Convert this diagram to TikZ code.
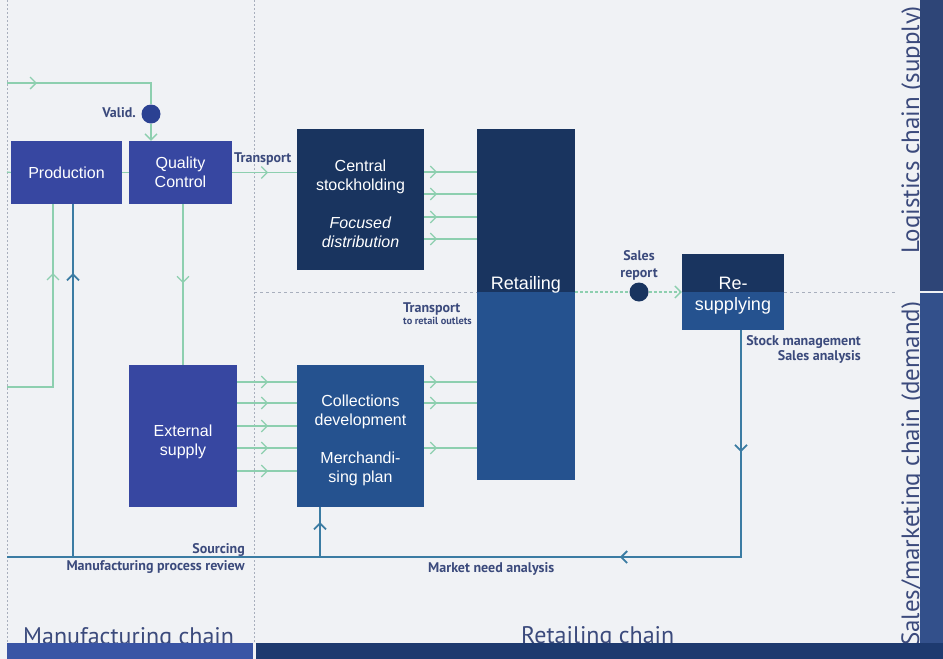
\documentclass[tikz,border=0pt]{standalone}
\usepackage{fontspec}
\setmainfont{Liberation Sans}
\newfontfamily\chainfont{PT Sans}
\usetikzlibrary{arrows.meta,decorations.markings}

\definecolor{bgcol}{HTML}{F0F2F5}
\definecolor{indigo}{HTML}{3747A1}
\definecolor{navy}{HTML}{19345F}
\definecolor{midblue}{HTML}{25528F}
\definecolor{flowgreen}{HTML}{8DCFAF}
\definecolor{loopblue}{HTML}{3B7CA3}
\definecolor{labelblue}{HTML}{3B4A7C}
\definecolor{gridgray}{HTML}{A8AFBD}
\definecolor{barleft}{HTML}{3A55A5}
\definecolor{barright}{HTML}{1E3A6F}
\definecolor{sidetop}{HTML}{2E4577}
\definecolor{sidebot}{HTML}{33508B}
\definecolor{validcol}{HTML}{2B4192}

\tikzset{
  box/.style={rectangle, inner sep=0pt, text=white, align=center,
    font=\fontsize{16}{19}\selectfont},
  flow/.style={draw=flowgreen, line width=1.3pt},
  backflow/.style={draw=loopblue, line width=1.9pt},
  chevron/.tip={Straight Barb[length=6pt,width=12pt]},
  barb/.style={postaction={decorate}, decoration={markings,
    mark=at position #1 with {\arrow{chevron}}}},
  lbl/.style={text=labelblue, inner sep=0pt,
    font=\chainfont\bfseries\fontsize{14}{16}\selectfont},
  chainlbl/.style={text=labelblue, inner sep=0pt,
    font=\chainfont\fontsize{24}{29}\selectfont},
  knob/.style={circle, inner sep=0pt, minimum size=19pt},
}

\begin{document}
\begin{tikzpicture}[x=1pt, y=-1pt]

%% background
\useasboundingbox (0,0) rectangle (943,659);
\fill[bgcol] (0,0) rectangle (943,659);

%% section dividers
\draw[gridgray, line width=1pt, dash pattern=on 2pt off 2pt] (7,0) -- (7,643);
\draw[gridgray, line width=1pt, dash pattern=on 2pt off 2pt] (254,0) -- (254,643);

%% chain titles (under the bars)
\node[chainlbl, anchor=base west] (manu) at (23,644) {Manufacturing chain};
\node[chainlbl, anchor=base west] (retch) at (521,643) {Retailing chain};
\node[chainlbl, anchor=base west, rotate=90, font=\chainfont\fontsize{25}{30}\selectfont] (logi) at (919,254) {Logistics chain (supply)};
\node[chainlbl, anchor=base west, rotate=90, font=\chainfont\fontsize{25}{30}\selectfont] (salesch) at (919,646) {Sales/marketing chain (demand)};

%% bars
\fill[barleft] (7,643) rectangle (253,659);
\fill[barright] (256,643) rectangle (943,659);
\fill[sidetop] (920,0) rectangle (943,291);
\fill[sidebot] (920,293) rectangle (943,643);

%% boxes
\node[box, fill=indigo, minimum width=111pt, minimum height=63pt] (prod) at (66.5,172.5) {Production};
\node[box, fill=indigo, minimum width=103pt, minimum height=63pt] (qc) at (180.5,172.5) {Quality\\Control};
\node[box, fill=navy, minimum width=127pt, minimum height=141pt] (central) at (360.5,199.5) {};
\node[box, fill=indigo, minimum width=108pt, minimum height=142pt] (ext) at (183,436) {};
\node[box, fill=midblue, minimum width=127pt, minimum height=142pt] (coll) at (360.5,436) {};
\node[box, fill=midblue, minimum width=98pt, minimum height=351pt] (retail) at (526,304.5) {};
\node[box, fill=midblue, minimum width=102pt, minimum height=76pt] (resup) at (733,292) {};

%% upper halves
\coordinate (split) at (0,292);
\fill[navy] (retail.north west) rectangle (retail.east |- split);
\fill[navy] (resup.north west) rectangle (resup.east |- split);

%% box texts
\node[box] (centraltxt) at (360.5,203.5) {Central\\stockholding\\[19pt]\textit{Focused}\\\textit{distribution}};
\node[box] (exttxt) at (183,441.5) {External\\supply};
\node[box] (colltxt) at (360.5,440) {Collections\\development\\[19pt]Merchandi-\\sing plan};
\node[box, font=\fontsize{18}{21}\selectfont] (retailtxt) at (526,285) {Retailing};
\node[box, font=\fontsize{18}{21}\selectfont] (resuptxt) at (733,296) {Re-\\supplying};

%% split line
\draw[gridgray, line width=0.8pt, dash pattern=on 3pt off 3pt] (254,292) -- (retail.west |- split);
\draw[gridgray, line width=0.8pt, dash pattern=on 3pt off 3pt] (resup.east |- split) -- (895,292);

%% knobs
\node[knob, fill=validcol] (valid) at (151,114) {};
\node[knob, fill=navy] (report) at (639,292) {};

%% free ends
\coordinate (inA) at (7,83);
\coordinate (inB) at (7,172);
\coordinate (inC) at (7,387);
\coordinate (gx) at (53,387);
\coordinate (outL) at (7,557);
\coordinate (corner) at (741,557);
\coordinate (brA) at (320,557);
\coordinate (brB) at (73,557);

%% green flows
\draw[flow, barb=30pt] (inA) -| (valid.north);                       %% in -> valid
\draw[flow, -chevron] (valid.south) -- (valid.south |- qc.north);      %% valid -> qc
\draw[flow] (inB) -- (prod.west);                                      %% in -> prod
\draw[flow] (prod.east) -- (qc.west);                                  %% prod -> qc
\draw[flow, barb=36pt] (qc.east) -- (central.west |- qc.east);         %% qc -> central
\draw[flow, barb=79pt] (ext.north |- qc.south) -- (ext.north);         %% qc -> ext
\draw[flow, barb=160pt] (inC) -- (gx) -- (gx |- prod.south);           %% in -> prod

\draw[flow, barb=13pt] (central.east |- 0,172) -- (retail.west |- 0,172); %% central -> retail
\draw[flow, barb=13pt] (central.east |- 0,194) -- (retail.west |- 0,194);
\draw[flow, barb=13pt] (central.east |- 0,217) -- (retail.west |- 0,217);
\draw[flow, barb=13pt] (central.east |- 0,239) -- (retail.west |- 0,239);

\draw[flow, barb=31pt] (ext.east |- 0,382) -- (coll.west |- 0,382);   %% ext -> coll
\draw[flow, barb=31pt] (ext.east |- 0,403) -- (coll.west |- 0,403);
\draw[flow, barb=31pt] (ext.east |- 0,426) -- (coll.west |- 0,426);
\draw[flow, barb=31pt] (ext.east |- 0,448) -- (coll.west |- 0,448);
\draw[flow, barb=31pt] (ext.east |- 0,471) -- (coll.west |- 0,471);

\draw[flow, barb=13pt] (coll.east |- 0,382) -- (retail.west |- 0,382); %% coll -> retail
\draw[flow, barb=13pt] (coll.east |- 0,403) -- (retail.west |- 0,403);
\draw[flow, barb=13pt] (coll.east |- 0,448) -- (retail.west |- 0,448);

\draw[flow, dash pattern=on 3pt off 2pt] (retail.east |- split) -- (report.west);  %% retail -> report
\draw[flow, dash pattern=on 3pt off 2pt, -chevron] (report.east) -- (resup.west |- split); %% report -> resup

%% back flows
\draw[backflow, postaction={decorate}, decoration={markings,
  mark=at position 122pt with {\arrow{chevron}},
  mark=at position 348pt with {\arrow{chevron}}}]
  (resup.south -| corner) -- (corner) -- (outL);                       %% resup -> out
\draw[backflow, barb=35pt] (brA) -- (brA |- coll.south);               %% -> coll
\draw[backflow, barb=284pt] (brB) -- (brB |- prod.south);              %% -> prod

%% labels
\node[lbl, anchor=base east] (validlbl) at (136,117) {Valid.};
\node[lbl, anchor=base west] (transa) at (234,162) {Transport};
\node[lbl, anchor=base] (salesa) at (639,260) {Sales};
\node[lbl, anchor=base] (salesb) at (639,277) {report};
\node[lbl, anchor=base west] (transb) at (403,312) {Transport};
\node[lbl, anchor=base west, font=\chainfont\bfseries\fontsize{10.3}{12}\selectfont] (outlets) at (403,324) {to retail outlets};
\node[lbl, anchor=base east] (stock) at (861,345) {Stock management};
\node[lbl, anchor=base east] (analysis) at (861,360) {Sales analysis};
\node[lbl, anchor=base east] (sourcing) at (245,553) {Sourcing};
\node[lbl, anchor=base east] (review) at (245,570) {Manufacturing process review};
\node[lbl, anchor=base west] (market) at (428,572) {Market need analysis};

\end{tikzpicture}
\end{document}
